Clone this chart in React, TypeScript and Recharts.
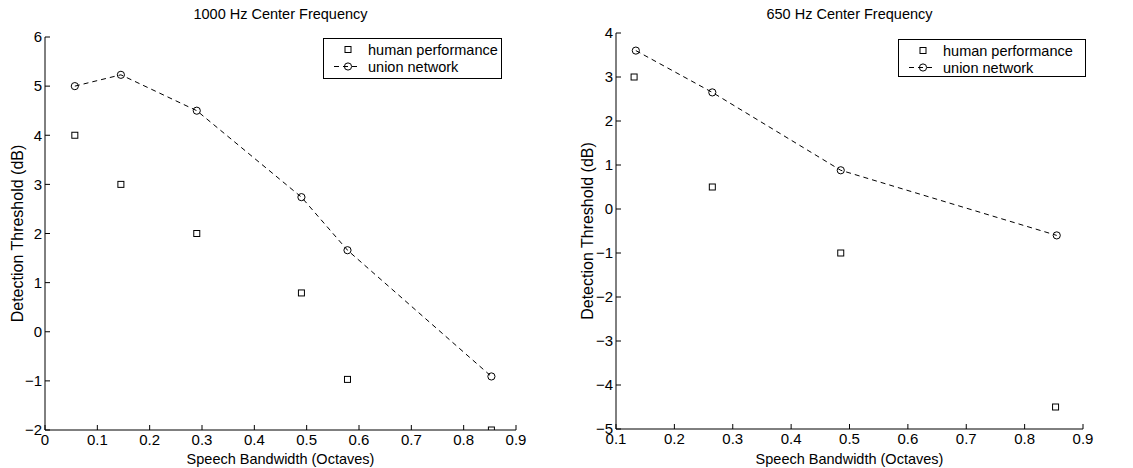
import React from "react";
import { ScatterChart, Scatter, XAxis, YAxis, Legend, Label } from "recharts";

// 1000 Hz panel
const leftHumanX = [0.057, 0.145, 0.29, 0.49, 0.578, 0.853];
const leftHumanY = [4.0, 3.0, 2.0, 0.79, -0.97, -2.0];
const leftNetX = [0.057, 0.145, 0.29, 0.49, 0.578, 0.853];
const leftNetY = [5.0, 5.23, 4.5, 2.74, 1.66, -0.91];
const leftXTicks = [0, 0.1, 0.2, 0.3, 0.4, 0.5, 0.6, 0.7, 0.8, 0.9];
const leftYTicks = [-2, -1, 0, 1, 2, 3, 4, 5, 6];

// 650 Hz panel
const rightHumanX = [0.131, 0.265, 0.485, 0.853];
const rightHumanY = [3.0, 0.5, -1.0, -4.5];
const rightNetX = [0.134, 0.265, 0.485, 0.855];
const rightNetY = [3.6, 2.65, 0.88, -0.6];
const rightXTicks = [0.1, 0.2, 0.3, 0.4, 0.5, 0.6, 0.7, 0.8, 0.9];
const rightYTicks = [-5, -4, -3, -2, -1, 0, 1, 2, 3, 4];

const seriesNames = ["human performance", "union network"];

const zip = (xs: number[], ys: number[]) => xs.map((x, i) => ({ x, y: ys[i] }));

const FONT = "'Liberation Sans', Arial, Helvetica, sans-serif";

const Square = (p: any) => (
  <rect x={p.cx - 3} y={p.cy - 3} width={6} height={6} fill="none" stroke="#000" strokeWidth={1} />
);
const Circle = (p: any) => (
  <circle cx={p.cx} cy={p.cy} r={3.6} fill="none" stroke="#000" strokeWidth={1} />
);

const fmtY = (v: number) => (v < 0 ? "\u2212" + Math.abs(v) : String(v));

const LegendBox = ({ w, h }: { w: number; h: number }) => (
  <div
    style={{
      width: w,
      height: h,
      border: "1px solid #000",
      boxSizing: "border-box",
      background: "#fff",
      fontFamily: FONT,
      fontSize: 14.5,
      color: "#000",
      paddingTop: 2,
    }}
  >
    <div style={{ display: "flex", alignItems: "center", height: 17 }}>
      <svg width={44} height={17}>
        <rect x={21} y={5.5} width={6} height={6} fill="none" stroke="#000" />
      </svg>
      <span>{seriesNames[0]}</span>
    </div>
    <div style={{ display: "flex", alignItems: "center", height: 17 }}>
      <svg width={44} height={17}>
        <line x1={10} y1={8.5} x2={36} y2={8.5} stroke="#000" strokeDasharray="5 4" />
        <circle cx={24} cy={8.5} r={3.6} fill="none" stroke="#000" />
      </svg>
      <span>{seriesNames[1]}</span>
    </div>
  </div>
);

type PanelProps = {
  title: string;
  humanX: number[];
  humanY: number[];
  netX: number[];
  netY: number[];
  xTicks: number[];
  yTicks: number[];
  left: number;
  width: number;
  margin: { top: number; right: number };
  yAxisWidth: number;
  xAxisHeight: number;
  legendPos: { left: number; top: number; w: number; h: number };
};

function Panel(p: PanelProps) {
  const plotLeft = p.yAxisWidth;
  const plotRight = p.width - p.margin.right;
  return (
    <div style={{ position: "absolute", left: p.left, top: 0, width: p.width, height: 468 }}>
      <div
        style={{
          position: "absolute",
          left: plotLeft,
          width: plotRight - plotLeft,
          top: 6,
          textAlign: "center",
          fontFamily: FONT,
          fontSize: 14.5,
          color: "#000",
        }}
      >
        {p.title}
      </div>
      <ScatterChart
        width={p.width}
        height={468}
        margin={{ top: p.margin.top, right: p.margin.right, left: 0, bottom: 0 }}
        style={{ fontFamily: FONT }}
      >
        <XAxis
          type="number"
          dataKey="x"
          domain={[p.xTicks[0], p.xTicks[p.xTicks.length - 1]]}
          ticks={p.xTicks}
          allowDataOverflow
          height={p.xAxisHeight}
          stroke="#000"
          tickSize={-5}
          tickMargin={9}
          tick={{ fill: "#000", fontSize: 15 }}
          tickFormatter={(v: number) => String(Math.round(v * 10) / 10)}
        >
          <Label
            value="Speech Bandwidth (Octaves)"
            position="insideBottom"
            offset={4}
            style={{ fill: "#000", fontSize: 14.5 }}
          />
        </XAxis>
        <YAxis
          type="number"
          dataKey="y"
          domain={[p.yTicks[0], p.yTicks[p.yTicks.length - 1]]}
          ticks={p.yTicks}
          allowDataOverflow
          width={p.yAxisWidth}
          stroke="#000"
          tickSize={-5}
          tickMargin={8}
          tick={{ fill: "#000", fontSize: 15 }}
          tickFormatter={fmtY}
        >
          <Label
            content={(lp: any) => {
              const vb = lp.viewBox || {};
              const cx = vb.x + 17;
              const cy = vb.y + vb.height / 2;
              return (
                <text
                  x={cx}
                  y={cy}
                  transform={`rotate(-90 ${cx} ${cy})`}
                  textAnchor="middle"
                  dominantBaseline="central"
                  fill="#000"
                  fontSize={16}
                >
                  Detection Threshold (dB)
                </text>
              );
            }}
          />
        </YAxis>
        <Scatter
          name={seriesNames[0]}
          data={zip(p.humanX, p.humanY)}
          shape={Square}
          isAnimationActive={false}
        />
        <Scatter
          name={seriesNames[1]}
          data={zip(p.netX, p.netY)}
          shape={Circle}
          line={{ stroke: "#000", strokeWidth: 1, strokeDasharray: "5 4" }}
          lineType="joint"
          isAnimationActive={false}
        />
        <Legend
          layout="vertical"
          align="center"
          verticalAlign="middle"
          wrapperStyle={{ left: p.legendPos.left, top: p.legendPos.top, width: p.legendPos.w, height: p.legendPos.h }}
          content={() => <LegendBox w={p.legendPos.w} h={p.legendPos.h} />}
        />
      </ScatterChart>
    </div>
  );
}

export default function App() {
  return (
    <div style={{ position: "absolute", left: 0, top: 0, width: 1133, height: 468, background: "#fff" }}>
      <Panel
        title="1000 Hz Center Frequency"
        humanX={leftHumanX}
        humanY={leftHumanY}
        netX={leftNetX}
        netY={leftNetY}
        xTicks={leftXTicks}
        yTicks={leftYTicks}
        left={0}
        width={560}
        margin={{ top: 37, right: 44 }}
        yAxisWidth={45}
        xAxisHeight={38}
        legendPos={{ left: 323, top: 38, w: 179, h: 41 }}
      />
      <Panel
        title="650 Hz Center Frequency"
        humanX={rightHumanX}
        humanY={rightHumanY}
        netX={rightNetX}
        netY={rightNetY}
        xTicks={rightXTicks}
        yTicks={rightYTicks}
        left={570}
        width={563}
        margin={{ top: 33, right: 50 }}
        yAxisWidth={46}
        xAxisHeight={39}
        legendPos={{ left: 328, top: 39, w: 188, h: 38 }}
      />
    </div>
  );
}
